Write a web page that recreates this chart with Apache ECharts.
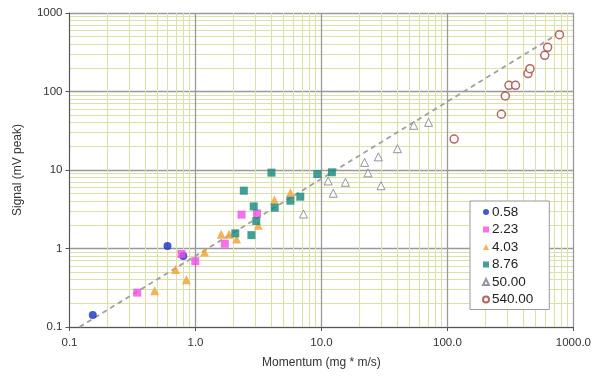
<!DOCTYPE html>
<html><head><meta charset="utf-8">
<script src="https://cdn.jsdelivr.net/npm/echarts@6/dist/echarts.min.js"></script>
<style>html,body{margin:0;padding:0;background:#fff}#c{width:594px;height:377px}</style>
</head><body><div id="c"></div>
<script>
const seriesNames = ['0.58', '2.23', '4.03', '8.76', '50.00', '540.00'];

const s058X = [0.153, 0.60, 0.80];
const s058Y = [0.142, 1.08, 0.80];

const s223X = [0.345, 0.775, 0.996, 1.71, 2.32, 3.08];
const s223Y = [0.274, 0.85, 0.69, 1.15, 2.70, 2.80];

const s403X = [0.474, 0.695, 0.847, 1.18, 1.60, 1.85, 2.12, 3.15, 4.23, 5.67];
const s403Y = [0.29, 0.54, 0.40, 0.90, 1.52, 1.52, 1.32, 1.98, 4.15, 5.14];

const s876X = [2.07, 2.42, 2.78, 2.90, 3.04, 4.01, 4.26, 5.67, 6.79, 9.27, 12.1];
const s876Y = [1.56, 5.45, 1.48, 3.44, 2.24, 9.25, 3.31, 4.06, 4.57, 8.9, 9.35];

const s50X = [7.2, 11.3, 12.4, 15.5, 22.0, 23.4, 28.3, 29.7, 40.1, 54, 70.8];
const s50Y = [2.75, 7.25, 5.05, 6.97, 12.5, 9.2, 14.7, 6.3, 18.7, 37.1, 40.5];

const s540X = [113, 268, 288, 308, 347, 436, 452, 592, 624, 774];
const s540Y = [24.8, 51.3, 87.7, 120, 120, 169, 195, 289, 366, 530];

const trendX = [0.12, 780];
const trendY = [0.1, 560];

const xTickLabels = {0.1: '0.1', 1: '1.0', 10: '10.0', 100: '100.0', 1000: '1000.0'};
const yTickLabels = {0.1: '0.1', 1: '1', 10: '10', 100: '100', 1000: '1000'};

function zip(a, b) { return a.map((v, i) => [v, b[i]]); }
function key(v) { return Number(Number(v).toPrecision(3)); }

const chart = echarts.init(document.getElementById('c'), null, {renderer: 'canvas'});
const FONT = 'Liberation Sans';

const styles = [
  {symbol: 'circle', size: 8, item: {color: '#1530c0'}},
  {symbol: 'rect', size: 8, item: {color: '#f04ee6'}},
  {symbol: 'triangle', size: 9, item: {color: '#f0a032'}},
  {symbol: 'rect', size: 8, item: {color: '#16877f'}},
  {symbol: 'triangle', size: 8, item: {color: '#ffffff', borderColor: '#7a7a90', borderWidth: 1}},
  {symbol: 'circle', size: 8, item: {color: '#ffffff', borderColor: '#a04040', borderWidth: 1.5}}
];
const dataSets = [
  zip(s058X, s058Y), zip(s223X, s223Y), zip(s403X, s403Y),
  zip(s876X, s876Y), zip(s50X, s50Y), zip(s540X, s540Y)
];

const scatterSeries = seriesNames.map((n, i) => ({
  name: n,
  type: 'scatter',
  data: dataSets[i],
  symbol: styles[i].symbol,
  symbolSize: styles[i].size,
  itemStyle: styles[i].item,
  z: 3
}));

const axisCommon = {
  type: 'log',
  logBase: 10,
  min: 0.1,
  max: 1000,
  axisLine: {show: true, lineStyle: {color: '#555', width: 1}},
  axisTick: {show: true, length: 4, lineStyle: {color: '#555'}},
  splitLine: {show: true, lineStyle: {color: '#9a9a9a', width: 1.3}},
  minorTick: {show: false, splitNumber: 9},
  minorSplitLine: {show: true, lineStyle: {color: '#dbe1a8', width: 1}},
  nameTextStyle: {fontFamily: FONT, fontSize: 12, color: '#333'}
};

chart.setOption({
  animation: false,
  backgroundColor: '#ffffff',
  grid: {left: 69.5, right: 11, top: 13, bottom: 50, containLabel: false},
  legend: {
    orient: 'vertical',
    left: 470, top: 201,
    padding: [4, 16, 3, 12],
    backgroundColor: '#ffffff',
    borderColor: '#999',
    borderWidth: 1,
    itemGap: 3.5,
    itemWidth: 6,
    itemHeight: 6,
    textStyle: {fontFamily: FONT, fontSize: 13.5, color: '#222', padding: [0, 0, 0, -2]},
    data: seriesNames
  },
  xAxis: Object.assign({}, axisCommon, {
    name: 'Momentum (mg * m/s)',
    nameLocation: 'middle',
    nameGap: 30,
    axisLabel: {margin: 10, fontFamily: FONT, fontSize: 11.5, color: '#333',
      formatter: v => xTickLabels[key(v)] !== undefined ? xTickLabels[key(v)] : ''}
  }),
  yAxis: Object.assign({}, axisCommon, {
    name: 'Signal (mV peak)',
    nameLocation: 'middle',
    nameGap: 46,
    axisLabel: {margin: 7, fontFamily: FONT, fontSize: 11.5, color: '#333',
      formatter: v => yTickLabels[key(v)] !== undefined ? yTickLabels[key(v)] : ''}
  }),
  series: [
    {
      name: 'trend',
      type: 'line',
      data: zip(trendX, trendY),
      symbol: 'none',
      lineStyle: {color: '#a0a0a0', width: 1.8, type: [5, 4]},
      z: 2,
      silent: true
    }
  ].concat(scatterSeries)
});
</script>
</body></html>
